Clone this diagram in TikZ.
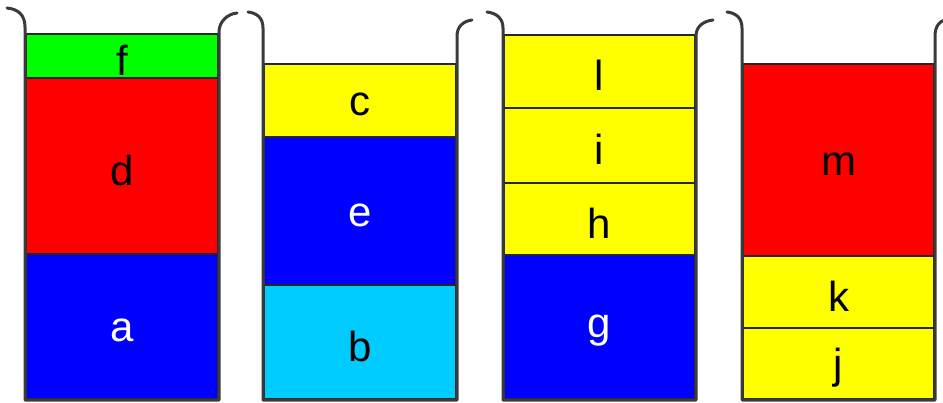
\documentclass[tikz,border=0pt]{standalone}
\usepackage{fontspec}
\setmainfont{Liberation Sans}
\definecolor{cgreen}{HTML}{00FF00}
\definecolor{cred}{HTML}{FF0000}
\definecolor{cblue}{HTML}{0000FF}
\definecolor{cyell}{HTML}{FFFF00}
\definecolor{ccyan}{HTML}{00CCFF}
\definecolor{wallc}{HTML}{3A3A3A}
\tikzset{
  wall/.style={draw=wallc, line width=3pt, line join=round, line cap=round},
  blockfill/.style={draw=black!85, line width=2.6pt},
  lbl/.style={font=\fontsize{42}{42}\selectfont, inner sep=0pt, anchor=center, yshift=-4pt}
}
\newcommand{\blk}[8]{%
  \path[blockfill, fill=#6] (#2,#3) rectangle (#4,#5);
  \node[lbl, text=#8] (#1) at ({(#2+#4)/2},{(#3+#5)/2}) {#7};
}
\begin{document}
\begin{tikzpicture}[x=1pt,y=-1pt]
\useasboundingbox (0,0) rectangle (943,402);
% container 1
\blk{a}{26}{254}{218}{399}{cblue}{a}{white}
\blk{d}{26}{78}{218}{254}{cred}{d}{black}
\blk{f}{26}{34}{218}{78}{cgreen}{f}{black}
% container 2
\blk{b}{264}{285}{456}{399}{ccyan}{b}{black}
\blk{e}{264}{137}{456}{285}{cblue}{e}{white}
\blk{c}{264}{64}{456}{137}{cyell}{c}{black}
% container 3
\blk{g}{504}{255}{695}{399}{cblue}{g}{white}
\blk{h}{504}{183}{695}{255}{cyell}{h}{black}
\blk{i}{504}{108}{695}{183}{cyell}{i}{black}
\blk{l}{504}{35}{695}{108}{cyell}{l}{black}
% container 4
\blk{j}{743}{328}{934}{399}{cyell}{j}{black}
\blk{k}{743}{256}{934}{328}{cyell}{k}{black}
\blk{m}{743}{64}{934}{256}{cred}{m}{black}
% walls
\coordinate (w1a) at (7,8);   \coordinate (w1b) at (237,13);
\coordinate (w2a) at (248,12); \coordinate (w2b) at (472,20);
\coordinate (w3a) at (487,12); \coordinate (w3b) at (713,20);
\coordinate (w4a) at (727,12); \coordinate (w4b) at (945,20);
\draw[wall] (w1a) .. controls (18,9) and (25,15) .. (25,27) -- (25,400) -- (219,400) -- (219,32) .. controls (219,22) and (227,14) .. (w1b);
\draw[wall] (w2a) .. controls (257,13) and (263,18) .. (263,28) -- (263,400) -- (457,400) -- (457,36) .. controls (457,26) and (464,21) .. (w2b);
\draw[wall] (w3a) .. controls (496,13) and (503,18) .. (503,28) -- (503,400) -- (696,400) -- (696,36) .. controls (696,26) and (704,21) .. (w3b);
\draw[wall] (w4a) .. controls (736,13) and (742,18) .. (742,28) -- (742,400) -- (935,400) -- (935,36) .. controls (935,26) and (940,21) .. (w4b);
\end{tikzpicture}
\end{document}
